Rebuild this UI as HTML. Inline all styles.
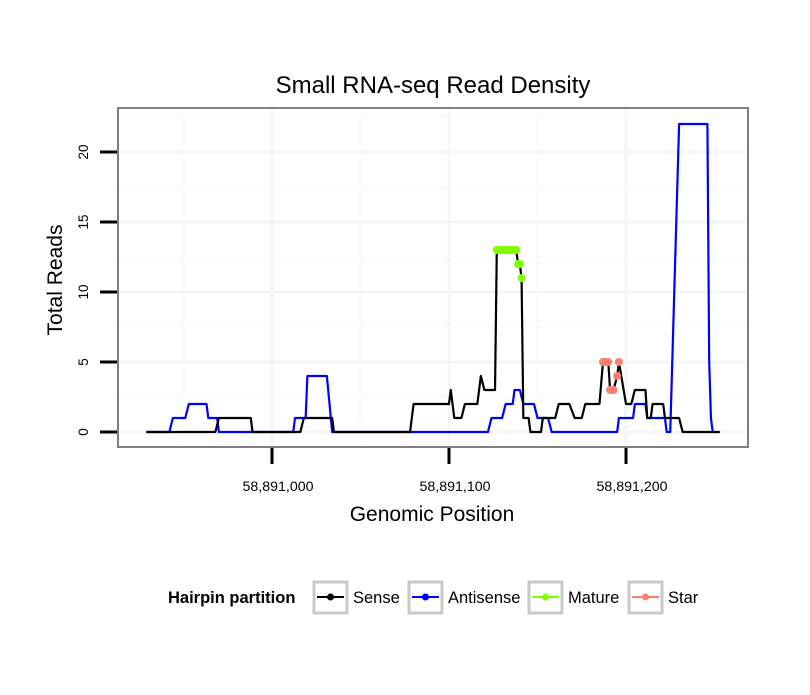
<!DOCTYPE html>
<html><head><meta charset="utf-8"><style>
body{margin:0;background:#fff;font-family:"Liberation Sans",sans-serif}
</style></head><body>
<svg id="chart" width="810" height="690" xmlns="http://www.w3.org/2000/svg">
<rect width="810" height="690" fill="#fff"/>
<text x="433" y="93" font-size="24" text-anchor="middle">Small RNA-seq Read Density</text>
<g id="grid"></g>
<g id="series"></g>
<rect x="118" y="108" width="630" height="339" fill="none" stroke="#7f7f7f" stroke-width="2"/>
<g id="axes"></g>
<text x="432" y="521" font-size="21" text-anchor="middle">Genomic Position</text>
<text transform="translate(62,280) rotate(-90)" font-size="21" text-anchor="middle">Total Reads</text>
<g id="legend">
<text x="168" y="603" font-size="16.5" font-weight="bold">Hairpin partition</text>
</g>
</svg>
<script>
const xTicks = [0, 100, 200];
const xTickLabels = ["58,891,000", "58,891,100", "58,891,200"];
const yTicks = [0, 5, 10, 15, 20];
const senseX = [-71,-32,-30,-12,-11,16,18,34,35,78,80,100,101,103,107,109,116,118,120,126,127,138,139,140,141,142,145,146,152,153,160,162,168,171,175,177,185,187,190,191,193,195,196,200,203,205,211,212,214,215,221,222,230,232,253];
const senseY = [0,0,1,1,0,0,1,1,0,0,2,2,3,1,1,2,2,4,3,3,13,13,12,12,11,1,1,0,0,1,1,2,2,1,1,2,2,5,5,3,3,4,5,2,2,3,3,1,1,2,2,1,1,0,0];
const antiX = [-71,-58,-56,-49,-47,-37,-36,-31,-30,12,13,19,20,31,34,122,124,130,132,136,137,140,142,148,150,156,158,195,196,204,205,211,212,222,223,225,230,246,247,248,249];
const antiY = [0,0,1,1,2,2,1,1,0,0,1,1,4,4,0,0,1,1,2,2,3,3,2,2,1,1,0,0,1,1,2,2,1,1,0,0,22,22,5,1,0];
const matureX = [127,128,129,130,131,132,133,134,135,136,137,138,139,140,141];
const matureY = [13,13,13,13,13,13,13,13,13,13,13,13,12,12,11];
const starX = [187,188,189,190,191,192,193,195,196];
const starY = [5,5,5,5,3,3,3,4,5];

const NS = "http://www.w3.org/2000/svg";
const sx = v => 272 + v * 1.77;
const sy = v => 432 - v * 14;
function mk(tag, attrs, parent){const e=document.createElementNS(NS,tag);for(const k in attrs)e.setAttribute(k,attrs[k]);parent.appendChild(e);return e;}
const grid=document.getElementById('grid'), ser=document.getElementById('series'), axes=document.getElementById('axes'), leg=document.getElementById('legend');

[-50,0,50,100,150,200,250].forEach(v=>{const l=mk('line',{x1:sx(v),x2:sx(v),y1:109,y2:446,stroke:v%100===0?'#f5f5f5':'#fafafa','stroke-width':v%100===0?3:2},grid);

});
[0,2.5,5,7.5,10,12.5,15,17.5,20,22.5].forEach(v=>{const l=mk('line',{x1:119,x2:747,y1:sy(v),y2:sy(v),stroke:v%5===0?'#f5f5f5':'#fafafa','stroke-width':v%5===0?3:2},grid);

});

function line(xs,ys,color,name){const p=mk('polyline',{points:xs.map((x,i)=>sx(x)+','+sy(ys[i])).join(' '),fill:'none',stroke:color,'stroke-width':2.2,'stroke-linejoin':'round'},ser);

}
line(antiX,antiY,'#0000ff','antisense-line');
line(senseX,senseY,'#000000','sense-line');
function pts(xs,ys,color,name){xs.forEach((x,i)=>{const c=mk('circle',{cx:sx(x),cy:sy(ys[i]),r:4,fill:color},ser);

});}
pts(matureX,matureY,'#7fff00','mature-point');
pts(starX,starY,'#fa8072','star-point');

yTicks.forEach(v=>{const t=mk('line',{x1:100,x2:117,y1:sy(v),y2:sy(v),stroke:'#000','stroke-width':3},axes);


const tx=mk('text',{transform:`translate(88,${sy(v)}) rotate(-90)`,'font-size':13.5,'text-anchor':'middle'},axes);tx.textContent=v;

});
xTicks.forEach((v,i)=>{const t=mk('line',{x1:sx(v),x2:sx(v),y1:448,y2:464,stroke:'#000','stroke-width':3},axes);


const tx=mk('text',{x:sx(v)+6,y:491,'font-size':14.2,'text-anchor':'middle'},axes);tx.textContent=xTickLabels[i];

});

const legNames=['Sense','Antisense','Mature','Star'], legColors=['#000','#0000ff','#7fff00','#fa8072'], legX=[313,408,528,628];
legNames.forEach((n,i)=>{const g=mk('g',{},leg);


mk('rect',{x:legX[i]+1,y:582,width:33,height:31,fill:'#fff',stroke:'#c8c8c8','stroke-width':3},g);
mk('line',{x1:legX[i]+4,x2:legX[i]+31,y1:597,y2:597,stroke:legColors[i],'stroke-width':2},g);
mk('circle',{cx:legX[i]+17.5,cy:597,r:3.5,fill:legColors[i]},g);
const t=mk('text',{x:legX[i]+40,y:603,'font-size':16.5},g);t.textContent=n;});
</script>
</body></html>
